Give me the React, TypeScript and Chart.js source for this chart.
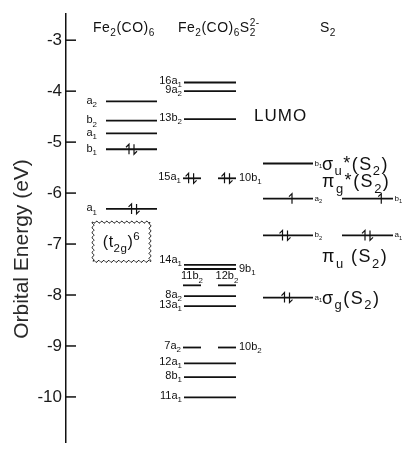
import React, { useEffect, useRef } from "react";
import { Chart, registerables } from "chart.js";

Chart.register(...registerables);

const FONT = "'Liberation Sans', Arial, Helvetica, sans-serif";

// ---- axis ----
const yTickValues = [-3, -4, -5, -6, -7, -8, -9, -10];
const yTickLabels = ["-3", "-4", "-5", "-6", "-7", "-8", "-9", "-10"];
const yMin = -10.9;
const yMax = -2.49;
const axisTitle = "Orbital Energy (eV)";

// ---- column headings ----
const columnTitles = ["Fe_2(CO)_6", "Fe_2(CO)_6S_2~{2-}", "S_2"];

// ---- Fe2(CO)6 levels ----
const feLabels = ["a_2", "b_2", "a_1", "b_1", "a_1"];
const feEnergies = [-4.2, -4.58, -4.83, -5.14, -6.31];
const feElectrons = [0, 0, 0, 2, 2];

// ---- Fe2(CO)6S2(2-) levels ----
const cxLabels = ["16a_1", "9a_2", "13b_2", "15a_1", "10b_1", "14a_1", "9b_1", "11b_2", "12b_2", "8a_2", "13a_1", "7a_2", "10b_2", "12a_1", "8b_1", "11a_1"];
const cxEnergies = [-3.83, -4.0, -4.55, -5.71, -5.71, -7.41, -7.49, -7.81, -7.81, -8.02, -8.22, -9.03, -9.03, -9.34, -9.61, -10.01];
const cxParts = ["full", "full", "full", "left", "right", "full", "full", "left", "right", "full", "full", "left", "right", "full", "full", "full"];
const cxLabelSide = ["left", "left", "left", "left", "right", "left", "right", "above", "above", "left", "left", "left", "right", "left", "left", "left"];
const cxElectrons = [0, 0, 0, 2, 2, 0, 0, 0, 0, 0, 0, 0, 0, 0, 0, 0];

// ---- S2 levels ----
const s2Labels = ["b_1", "a_2", "b_1", "b_2", "a_1", "a_1"];
const s2Energies = [-5.42, -6.11, -6.11, -6.83, -6.83, -8.05];
const s2Parts = ["main", "main", "side", "main", "side", "main"];
const s2Electrons = [0, 1, 1, 2, 2, 2];
const s2ElectronPos = [0.5, 0.58, 0.77, 0.44, 0.5, 0.48];

// ---- S2 orbital names ----
const s2Names = ["σ_u^*(S_2)", "π_g^*(S_2)", "π_u (S_2)", "σ_g(S_2)"];
const s2NameEnergies = [-5.42, -5.77, -7.24, -8.05];

// ---- annotations ----
const lumoText = "LUMO";
const lumoEnergy = -4.47;
const boxText = "(t_{2g})^6";
const boxTopEnergy = -6.57;
const boxBottomEnergy = -7.34;

// ---- horizontal layout (x scale spans the canvas width in px) ----
const LAYOUT = {
  fe: { full: [106, 157] },
  cx: { full: [184, 236], left: [183, 201], right: [218, 236] },
  s2: { main: [263, 313], side: [342, 393] },
  titles: [93, 178, 320],
  lumoX: 254,
  namesX: 322,
  box: [93, 150],
};

type Seg = { e: number; x0: number; x1: number; label: string; side: string; el: number; ePos: number; col: string };

const segs: Seg[] = [];
feEnergies.forEach((e, i) =>
  segs.push({ e, x0: LAYOUT.fe.full[0], x1: LAYOUT.fe.full[1], label: feLabels[i], side: "left", el: feElectrons[i], ePos: i === 4 ? 0.55 : 0.5, col: "fe" })
);
cxEnergies.forEach((e, i) => {
  const r = (LAYOUT.cx as any)[cxParts[i]];
  segs.push({ e, x0: r[0], x1: r[1], label: cxLabels[i], side: cxLabelSide[i], el: cxElectrons[i], ePos: i === 3 ? 0.45 : 0.5, col: "cx" });
});
s2Energies.forEach((e, i) => {
  const r = (LAYOUT.s2 as any)[s2Parts[i]];
  segs.push({ e, x0: r[0], x1: r[1], label: s2Labels[i], side: "right", el: s2Electrons[i], ePos: s2ElectronPos[i], col: "s2" });
});

type Run = { t: string; x: number; dy: number; fs: number };

function layoutRich(ctx: CanvasRenderingContext2D, s: string, size: number) {
  const runs: Run[] = [];
  let i = 0;
  let x = 0;
  let lastSub: { start: number; end: number } | null = null;
  while (i < s.length) {
    const c = s[i];
    if (c === "_" || c === "^" || c === "~") {
      let t: string;
      if (s[i + 1] === "{") {
        const j = s.indexOf("}", i + 2);
        t = s.slice(i + 2, j);
        i = j + 1;
      } else {
        t = s[i + 1];
        i += 2;
      }
      const star = t === "*";
      const fs = star ? size : size * 0.72;
      ctx.font = `${fs}px ${FONT}`;
      const w = ctx.measureText(t).width;
      if (c === "_") {
        runs.push({ t, x, dy: size * 0.3, fs });
        lastSub = { start: x, end: x + w };
        x += w;
      } else if (c === "~" && lastSub) {
        runs.push({ t, x: lastSub.start, dy: -size * 0.45, fs });
        x = Math.max(x, lastSub.start + w);
        lastSub = null;
      } else {
        runs.push({ t, x, dy: star ? -size * 0.05 : -size * 0.42, fs });
        x += w;
        lastSub = null;
      }
    } else {
      let j = i;
      while (j < s.length && s[j] !== "_" && s[j] !== "^" && s[j] !== "~") j++;
      const t = s.slice(i, j);
      ctx.font = `${size}px ${FONT}`;
      const w = ctx.measureText(t).width;
      runs.push({ t, x, dy: 0, fs: size });
      x += w;
      i = j;
      lastSub = null;
    }
  }
  return { runs, width: x };
}

function drawRich(ctx: CanvasRenderingContext2D, s: string, x: number, y: number, size: number, align = "left", spacing = 0, color = "#111") {
  (ctx as any).letterSpacing = `${spacing}px`;
  const { runs, width } = layoutRich(ctx, s, size);
  const x0 = align === "left" ? x : align === "right" ? x - width : x - width / 2;
  ctx.fillStyle = color;
  ctx.textBaseline = "alphabetic";
  ctx.textAlign = "left";
  runs.forEach((r) => {
    ctx.font = `${r.fs}px ${FONT}`;
    ctx.fillText(r.t, x0 + r.x, y + r.dy);
  });
  (ctx as any).letterSpacing = "0px";
}

function halfArrow(ctx: CanvasRenderingContext2D, x: number, y: number, up: boolean) {
  const h = 5;
  ctx.beginPath();
  if (up) {
    ctx.moveTo(x, y + h);
    ctx.lineTo(x, y - h);
    ctx.lineTo(x - 3, y - h + 3);
  } else {
    ctx.moveTo(x, y - h);
    ctx.lineTo(x, y + h);
    ctx.lineTo(x + 3, y + h - 3);
  }
  ctx.stroke();
}

function wavyRect(ctx: CanvasRenderingContext2D, x0: number, y0: number, x1: number, y1: number) {
  const amp = 1.1;
  const wl = 5;
  ctx.beginPath();
  const edge = (ax: number, ay: number, bx: number, by: number, first: boolean) => {
    const len = Math.hypot(bx - ax, by - ay);
    const n = Math.max(2, Math.round(len));
    const nx = -(by - ay) / len;
    const ny = (bx - ax) / len;
    for (let k = 0; k <= n; k++) {
      const t = k / n;
      const d = t * len;
      const o = amp * Math.sin((2 * Math.PI * d) / wl);
      const px = ax + (bx - ax) * t + nx * o;
      const py = ay + (by - ay) * t + ny * o;
      if (first && k === 0) ctx.moveTo(px, py);
      else ctx.lineTo(px, py);
    }
  };
  edge(x0, y0, x1, y0, true);
  edge(x1, y0, x1, y1, false);
  edge(x1, y1, x0, y1, false);
  edge(x0, y1, x0, y0, false);
  ctx.closePath();
  ctx.stroke();
}

const diagramPlugin = {
  id: "diagram",
  afterDatasetsDraw(chart: any) {
    const ctx: CanvasRenderingContext2D = chart.ctx;
    const xs = chart.scales.x;
    const ys = chart.scales.y;
    const area = chart.chartArea;
    const px = (v: number) => xs.getPixelForValue(v);
    const py = (v: number) => ys.getPixelForValue(v);
    ctx.save();

    // inward tick marks
    ctx.strokeStyle = "#111";
    ctx.lineWidth = 1.5;
    yTickValues.forEach((v) => {
      const y = py(v);
      ctx.beginPath();
      ctx.moveTo(area.left, y);
      ctx.lineTo(area.left + 10, y);
      ctx.stroke();
    });

    // axis title
    ctx.save();
    ctx.translate(22, 249);
    ctx.rotate(-Math.PI / 2);
    ctx.font = `21px ${FONT}`;
    ctx.fillStyle = "#2a2a2a";
    ctx.textAlign = "center";
    ctx.textBaseline = "middle";
    ctx.fillText(axisTitle, 0, 0);
    ctx.restore();

    // column titles
    columnTitles.forEach((t, i) => drawRich(ctx, t, px(LAYOUT.titles[i]), 32, 14, "left", 0.5));

    // electrons
    ctx.lineWidth = 1.2;
    ctx.strokeStyle = "#111";
    segs.forEach((s) => {
      if (!s.el) return;
      const x = px(s.x0 + (s.x1 - s.x0) * s.ePos);
      const y = py(s.e);
      if (s.el === 2) {
        halfArrow(ctx, x - 2.5, y, true);
        halfArrow(ctx, x + 2.5, y, false);
      } else {
        halfArrow(ctx, x, y, true);
      }
    });

    // level labels
    segs.forEach((s) => {
      const y = py(s.e);
      if (s.col === "fe") {
        drawRich(ctx, s.label, px(s.x0) - 9, y + 2.5, 11, "right");
      } else if (s.col === "cx") {
        const yOff = s.label === "14a_1" ? -2 : 1.5;
        if (s.side === "left") drawRich(ctx, s.label, px(s.x0) - 2, y + yOff, 11, "right");
        else if (s.side === "right") drawRich(ctx, s.label, px(s.x1) + 3, y + yOff + 1, 11, "left");
        else drawRich(ctx, s.label, (px(s.x0) + px(s.x1)) / 2, y - 6, 11, "center");
      } else {
        drawRich(ctx, s.label, px(s.x1) + 1.5, y + 2, 8, "left");
      }
    });

    // S2 orbital names
    s2Names.forEach((n, i) => drawRich(ctx, n, px(LAYOUT.namesX), py(s2NameEnergies[i]) + 6, 18, "left", 1.5));

    // LUMO
    drawRich(ctx, lumoText, px(LAYOUT.lumoX), py(lumoEnergy) + 6, 17, "left", 1);

    // (t2g)^6 box
    ctx.lineWidth = 1;
    ctx.strokeStyle = "#222";
    const bt = py(boxTopEnergy);
    const bb = py(boxBottomEnergy);
    wavyRect(ctx, px(LAYOUT.box[0]), bt, px(LAYOUT.box[1]), bb);
    drawRich(ctx, boxText, (px(LAYOUT.box[0]) + px(LAYOUT.box[1])) / 2, (bt + bb) / 2 + 5, 16, "center", 0.5);

    ctx.restore();
  },
};

export default function App() {
  const ref = useRef<HTMLCanvasElement | null>(null);
  useEffect(() => {
    if (!ref.current) return;
    const datasets = segs.map((s) => ({
      data: [
        { x: s.x0, y: s.e },
        { x: s.x1, y: s.e },
      ],
      showLine: true,
      borderColor: "#111",
      borderWidth: 1.8,
      pointRadius: 0,
      fill: false,
      clip: false as any,
    }));
    const chart = new Chart(ref.current, {
      type: "scatter",
      data: { datasets },
      options: {
        animation: false,
        responsive: false,
        maintainAspectRatio: false,
        layout: { padding: { left: 0, right: 0, top: 8, bottom: 2 } },
        plugins: { legend: { display: false }, tooltip: { enabled: false } },
        scales: {
          x: { type: "linear", display: false, min: 66, max: 405 },
          y: {
            type: "linear",
            min: yMin,
            max: yMax,
            afterFit: (s: any) => {
              s.width = 66;
            },
            afterBuildTicks: (s: any) => {
              s.ticks = yTickValues.map((v) => ({ value: v }));
            },
            ticks: {
              padding: 4,
              color: "#1a1a1a",
              font: { size: 17, family: FONT },
              callback: (v: any) => {
                const i = yTickValues.indexOf(Number(v));
                return i >= 0 ? yTickLabels[i] : "";
              },
            },
            grid: { drawOnChartArea: false, drawTicks: false },
            border: { display: true, color: "#111", width: 1.5 },
          },
        },
      },
      plugins: [diagramPlugin],
    } as any);
    return () => chart.destroy();
  }, []);
  return (
    <div style={{ position: "absolute", left: 0, top: 0, width: 405, height: 457, background: "#fff" }}>
      <canvas ref={ref} width={405} height={457} />
    </div>
  );
}
